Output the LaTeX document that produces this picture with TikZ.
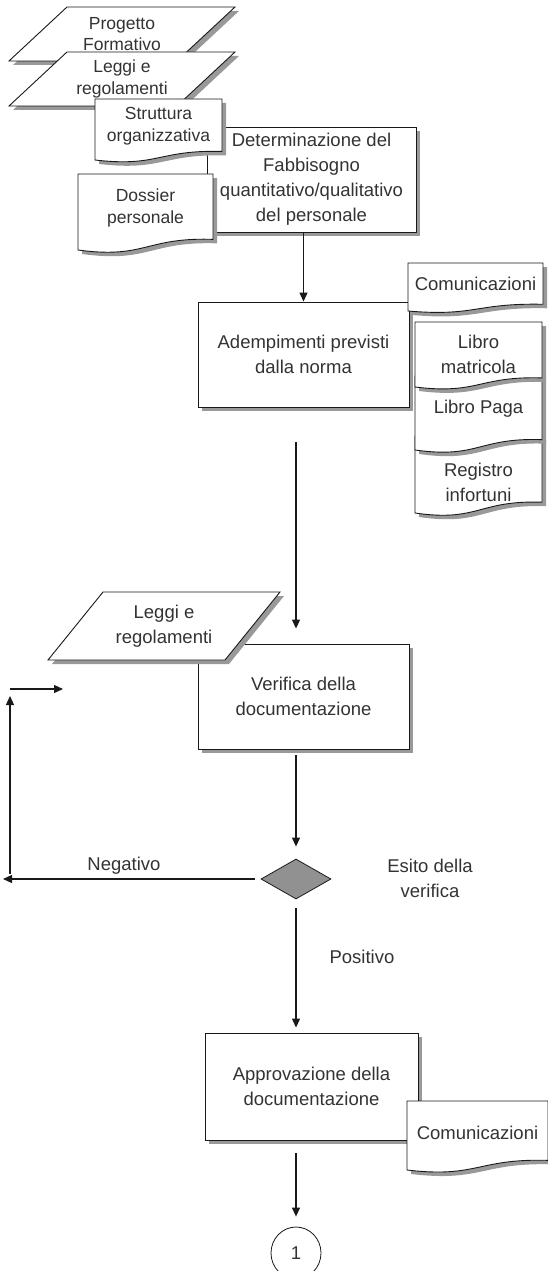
\documentclass[tikz,border=0pt]{standalone}
\usepackage{fontspec}
\setmainfont{Liberation Sans}
\usetikzlibrary{shapes.geometric, arrows.meta, calc}

\tikzset{
  ln/.style={draw=black!90, line width=0.9pt},
  shd/.style={fill=black!40, draw=none},
  big/.style={font=\fontsize{18.5}{25}\selectfont, align=center, text=black!80, inner sep=0pt},
  small/.style={font=\fontsize{17.5}{21.5}\selectfont, align=center, text=black!80, inner sep=0pt},
  arr/.style={draw=black!90, line width=1.2pt, -{Triangle[length=9pt,width=8pt]}},
  procbox/.style={ln, fill=white, inner sep=0pt, big},
}

% rectangle process box with shadow: name, cx, cy, w, h, text
\newcommand\procnode[6]{%
  \fill[shd] ({#2-#4/2+4},{#3-#5/2+4}) rectangle ++(#4,#5);
  \node[procbox, minimum width=#4pt, minimum height=#5pt] (#1) at (#2,#3) {#6};
}
% document shape: name, x1, y1, x2, bottom-left y, text y, style, text
\newcommand\docnode[8]{%
  \pgfmathsetmacro\docR{#5-0.14*(#5-#3)}%
  \pgfmathsetmacro\docD{#5+0.12*(#5-#3)}%
  \pgfmathsetmacro\docE{\docR-0.03*(#5-#3)}%
  \pgfmathsetmacro\docM{(#2+#4)/2}%
  \fill[shd, shift={(4,4)}] (#2,#3) -- (#4,#3) -- (#4,\docR) .. controls (\docM,\docE) and (\docM,\docD) .. (#2,#5) -- cycle;
  \path[ln, fill=white] (#2,#3) -- (#4,#3) -- (#4,\docR) .. controls (\docM,\docE) and (\docM,\docD) .. (#2,#5) -- cycle;
  \node[#7] (#1) at (\docM,#6) {#8};
}
% parallelogram: name, x top-left, y top, top width, slant, height, style, text
\newcommand\parnode[8]{%
  \fill[shd, shift={(4,4)}] (#2,#3) -- ++(#4,0) -- ++(-#5,#6) -- ++(-#4,0) -- cycle;
  \path[ln, fill=white] (#2,#3) -- ++(#4,0) -- ++(-#5,#6) -- ++(-#4,0) -- cycle;
  \node[#7] (#1) at ({#2+#4/2-#5/2},{#3+#6/2}) {#8};
}

\begin{document}
\begin{tikzpicture}[x=1pt, y=-1pt]
\useasboundingbox (0,0) rectangle (547,1271);

% top inputs
\parnode{prog}{67}{7}{168}{58}{54}{small}{Progetto\\Formativo}
\parnode{leggiA}{67}{52}{168}{58}{54}{small}{Leggi e\\regolamenti}

\procnode{det}{311.5}{179.5}{209}{105}{Determinazione del\\Fabbisogno\\quantitativo/qualitativo\\del personale}

\docnode{strut}{95}{99}{222}{160}{126}{small}{Struttura\\organizzativa}
\docnode{doss}{78}{174}{213}{250}{208}{small}{Dossier\\personale}

% adempimenti
\procnode{adem}{303.5}{354.5}{211}{105}{Adempimenti previsti\\dalla norma}
\docnode{comA}{408}{263}{543}{311}{284}{big}{Comunicazioni}

\docnode{reg}{415}{436}{542}{513}{482}{big}{Registro\\infortuni}
\docnode{paga}{415}{376}{542}{450}{409}{big}{Libro Paga}
\docnode{matr}{415}{322}{542}{387}{354}{big}{Libro\\matricola}

\draw[arr] (adem.north |- det.south) -- (adem.north);

% verifica
\procnode{ver}{303.5}{696.5}{211}{105}{Verifica della\\documentazione}
\parnode{leggiB}{103}{592}{177}{55}{68}{big}{Leggi e\\regolamenti}

\coordinate (s1) at (296,442);
\draw[arr, shorten >=15pt] (s1) -- (s1 |- ver.north);

% decision
\node[shape=diamond, draw=black!90, line width=0.8pt, fill=black!43, minimum width=70pt, minimum height=40pt, inner sep=0pt] (dia) at (296,879) {};
\draw[arr, shorten <=6pt, shorten >=12pt] (dia.north |- ver.south) -- (dia.north);

\coordinate (nl) at (3,879);
\draw[arr, shorten <=6pt] (dia.west) -- (nl);
\coordinate (lb) at (10,874);
\coordinate (lt) at (10,696);
\draw[arr] (lb) -- (lt);
\coordinate (rs) at (10,689);
\coordinate (re) at (63,689);
\draw[arr] (rs) -- (re);

\node[big] (neg) at (124,866) {Negativo};
\node[big] (esito) at (430,878) {Esito della\\verifica};
\node[big] (pos) at (362,957) {Positivo};

% approvazione
\procnode{app}{311.5}{1086.5}{213}{107}{Approvazione della\\documentazione}
\docnode{comB}{407}{1101}{548}{1170}{1133}{big}{Comunicazioni}

\draw[arr, shorten <=9pt, shorten >=5pt] (dia.south) -- (dia.south |- app.north);

\node[shape=ellipse, draw=black!90, line width=0.8pt, minimum width=50pt, minimum height=52pt, inner sep=0pt, big] (circ) at (296,1253) {1};
\draw[arr, shorten <=13pt, shorten >=10pt] (circ.north |- app.south) -- (circ.north);
\end{tikzpicture}
\end{document}
